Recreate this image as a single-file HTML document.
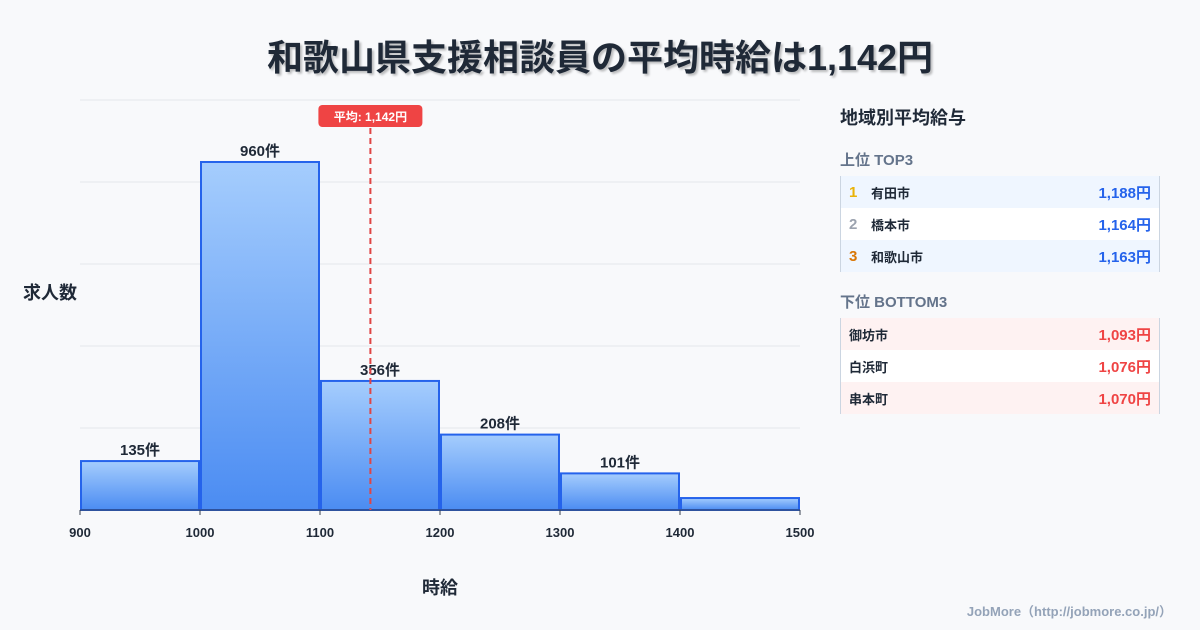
<!DOCTYPE html>
<html><head><meta charset="utf-8"><style>
body{margin:0;width:1200px;height:630px;background:#f8f9fb;font-family:"Liberation Sans","Noto Sans CJK JP",sans-serif;position:relative;overflow:hidden;color:#1f2937}
.title{position:absolute;top:29px;left:0;width:1200px;text-align:center;font-size:36px;font-weight:bold;color:#1f2937;text-shadow:2px 2px 2px rgba(0,0,0,.25)}
.panel{position:absolute;left:840px;top:100px;width:320px}
.ph{font-size:18px;font-weight:bold;margin-top:4px}
.sh{font-size:15px;font-weight:bold;color:#64748b;margin:19px 0 6px}
.row{height:32px;display:flex;align-items:center;font-size:13px;font-weight:bold;padding:0 8px;border-right:1px solid #cbd5e1;border-left:1px solid #cbd5e1}
.row .v{margin-left:auto;font-size:15px}
.rk{width:22px;font-size:15px}
.foot{position:absolute;right:28px;bottom:10px;font-size:13px;color:#94a3b8;font-weight:bold}
</style></head><body>
<div class="title">和歌山県支援相談員の平均時給は1,142円</div>
<svg id="chart" width="1200" height="630" style="position:absolute;left:0;top:0">
<defs><linearGradient id="g" x1="0" y1="0" x2="0" y2="1"><stop offset="0" stop-color="#a5cdfd"/><stop offset="1" stop-color="#4b8cf2"/></linearGradient></defs>
</svg>
<div class="panel">
<div class="ph">地域別平均給与</div>
<div class="sh">上位 TOP3</div>
<div class="row" style="background:#eff6ff"><span class="rk" style="color:#eab308">1</span>有田市<span class="v" style="color:#2563eb">1,188円</span></div>
<div class="row" style="background:#fff"><span class="rk" style="color:#9ca3af">2</span>橋本市<span class="v" style="color:#2563eb">1,164円</span></div>
<div class="row" style="background:#eff6ff"><span class="rk" style="color:#d97706">3</span>和歌山市<span class="v" style="color:#2563eb">1,163円</span></div>
<div class="sh">下位 BOTTOM3</div>
<div class="row" style="background:#fef2f2">御坊市<span class="v" style="color:#ef4444">1,093円</span></div>
<div class="row" style="background:#fff">白浜町<span class="v" style="color:#ef4444">1,076円</span></div>
<div class="row" style="background:#fef2f2">串本町<span class="v" style="color:#ef4444">1,070円</span></div>
</div>
<div class="foot">JobMore（http://jobmore.co.jp/）</div>
<script>
const binStarts=[900,1000,1100,1200,1300,1400];
const counts=[135,960,356,208,101,33];
const countLabels=["135件","960件","356件","208件","101件",""];
const xTicks=[900,1000,1100,1200,1300,1400,1500];
const meanValue=1142;
const meanLabel="平均: 1,142円";
const svg=document.getElementById('chart');
const NS='http://www.w3.org/2000/svg';
const X0=80,X1=800,Y0=510,Y1=100,xmin=900,xmax=1500,ymax=1131;
const x=v=>X0+(v-xmin)/(xmax-xmin)*(X1-X0);
const y=v=>Y0-v/ymax*(Y0-Y1);
function mk(t,a){const e=document.createElementNS(NS,t);for(const k in a)e.setAttribute(k,a[k]);svg.appendChild(e);return e;}
for(let i=0;i<5;i++){const g=mk('line',{x1:X0,x2:X1,y1:Y1+i*82,y2:Y1+i*82,stroke:'#e5e7eb','stroke-width':1});

}
binStarts.forEach((b,i)=>{const x0=x(b)+1,x1=x(b+100)-1,t=y(counts[i]);
const r=mk('rect',{x:x0,y:t,width:x1-x0,height:Y0-t,fill:'url(#g)',stroke:'#2563eb','stroke-width':2});


if(countLabels[i]){const l=mk('text',{x:(x0+x1)/2,y:t-6,'text-anchor':'middle','font-size':15,'font-weight':'bold',fill:'#1f2937'});l.textContent=countLabels[i];

}});
mk('line',{x1:X0,x2:X1,y1:Y0,y2:Y0,stroke:'#374151','stroke-width':1});
xTicks.forEach(v=>{mk('line',{x1:x(v),x2:x(v),y1:Y0,y2:Y0+5,stroke:'#374151'});
const t=mk('text',{x:x(v),y:537,'text-anchor':'middle','font-size':13,'font-weight':'bold',fill:'#1f2937'});t.textContent=v;

});
const mx=x(meanValue);
const ml=mk('line',{x1:mx,x2:mx,y1:128,y2:Y0,stroke:'#e04545','stroke-width':2,'stroke-dasharray':'6,4'});


const mb=mk('rect',{x:mx-52,y:105,width:104,height:22,rx:4,fill:'#ef4444'});


const mt=mk('text',{x:mx,y:121,'text-anchor':'middle','font-size':12,'font-weight':'bold',fill:'#fff'});mt.textContent=meanLabel;


const yt=mk('text',{x:50,y:299,'text-anchor':'middle','font-size':18,'font-weight':'bold',fill:'#1f2937'});yt.textContent='求人数';


const xt=mk('text',{x:440,y:594,'text-anchor':'middle','font-size':18,'font-weight':'bold',fill:'#1f2937'});xt.textContent='時給';


</script>
</body></html>
